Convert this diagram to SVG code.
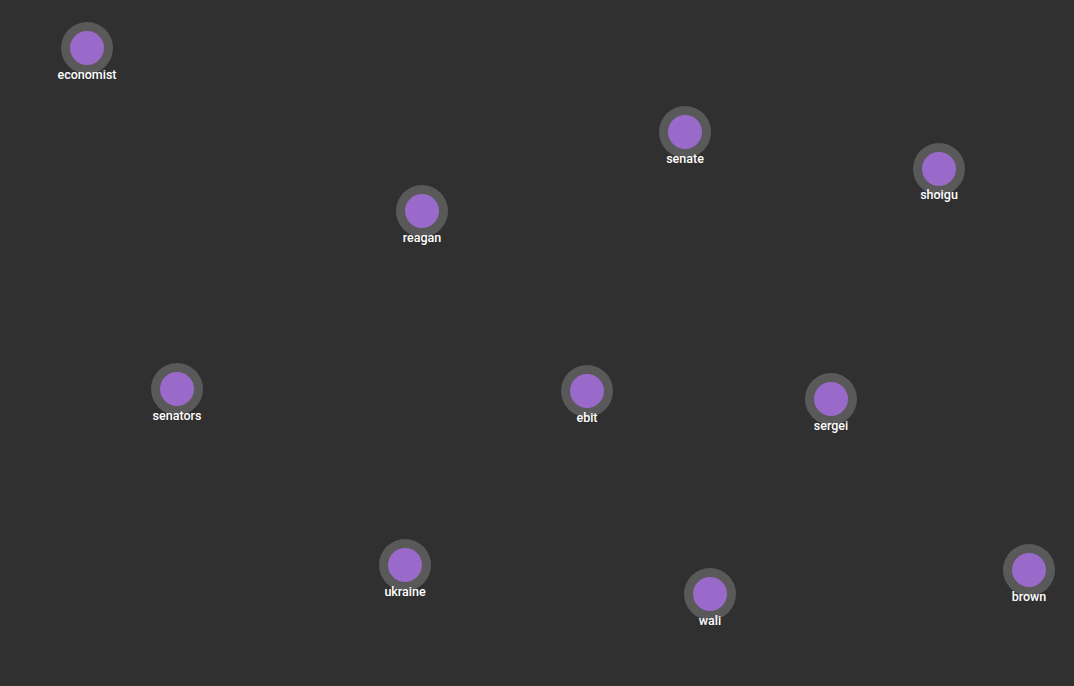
<svg xmlns="http://www.w3.org/2000/svg" width="1074" height="686" viewBox="0 0 1074 686">
<style>
.ring{fill:#595959}
.core{fill:#9a6acb}
.t{font-family:Roboto,"Liberation Sans",sans-serif;font-size:12.5px;font-weight:500;fill:#ffffff;text-anchor:middle}
</style>
<rect width="1074" height="686" fill="#303030"/>
<g id="connectors"></g>
<g id="economist"><circle class="ring" cx="87" cy="48" r="26"/><circle class="core" cx="87" cy="48" r="17"/><text class="t" x="87" y="79">economist</text></g>
<g id="senate"><circle class="ring" cx="685" cy="132" r="26"/><circle class="core" cx="685" cy="132" r="17"/><text class="t" x="685" y="163">senate</text></g>
<g id="shoigu"><circle class="ring" cx="939" cy="169" r="26"/><circle class="core" cx="939" cy="169" r="17"/><text class="t" x="939" y="199">shoigu</text></g>
<g id="reagan"><circle class="ring" cx="422" cy="211" r="26"/><circle class="core" cx="422" cy="211" r="17"/><text class="t" x="422" y="242">reagan</text></g>
<g id="senators"><circle class="ring" cx="177" cy="389" r="26"/><circle class="core" cx="177" cy="389" r="17"/><text class="t" x="177" y="420">senators</text></g>
<g id="ebit"><circle class="ring" cx="587" cy="391" r="26"/><circle class="core" cx="587" cy="391" r="17"/><text class="t" x="587" y="422">ebit</text></g>
<g id="sergei"><circle class="ring" cx="831" cy="399" r="26"/><circle class="core" cx="831" cy="399" r="17"/><text class="t" x="831" y="430">sergei</text></g>
<g id="ukraine"><circle class="ring" cx="405" cy="565" r="26"/><circle class="core" cx="405" cy="565" r="17"/><text class="t" x="405" y="596">ukraine</text></g>
<g id="wali"><circle class="ring" cx="710" cy="594" r="26"/><circle class="core" cx="710" cy="594" r="17"/><text class="t" x="710" y="625">wali</text></g>
<g id="brown"><circle class="ring" cx="1029" cy="570" r="26"/><circle class="core" cx="1029" cy="570" r="17"/><text class="t" x="1029" y="601">brown</text></g>
</svg>
